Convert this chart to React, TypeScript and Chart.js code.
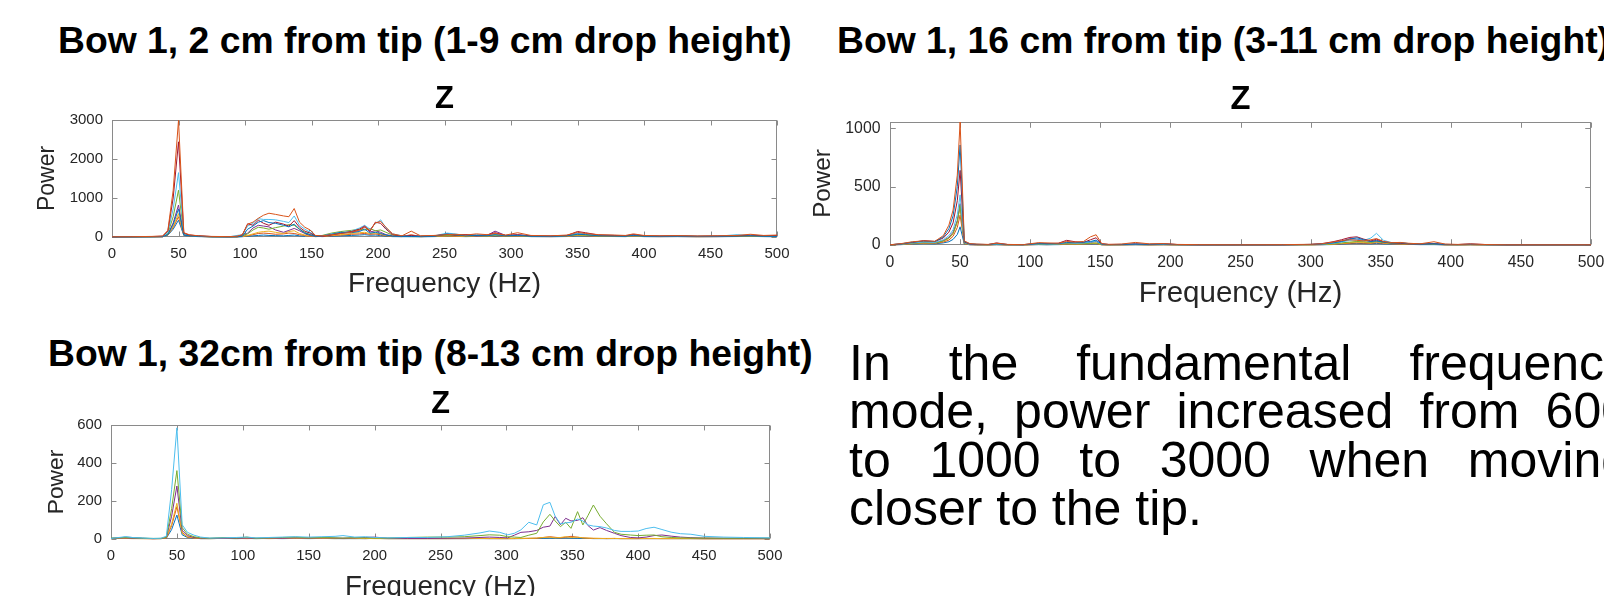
import React, { useEffect, useRef } from "react";
import { Chart, registerables } from "chart.js";

Chart.register(...registerables);

const FONT = '"Liberation Sans", Arial, Helvetica, sans-serif';
const LINE_COLORS = ["#0072BD", "#D95319", "#EDB120", "#7E2F8E", "#77AC30", "#4DBEEE", "#A2142F"];

// ---- Bow 1, 2 cm from tip: frequency grid (Hz) and power per drop height ----
const freqTip2 = [0, 15, 30, 38, 42, 46, 50, 54, 58, 65, 75, 88, 94, 98, 102, 106, 110, 114, 118, 123, 129, 133, 137, 141, 145, 149, 153, 158, 165, 172, 180, 186, 190, 194, 198, 202, 206, 211, 218, 225, 232, 242, 252, 258, 266, 274, 282, 288, 296, 305, 315, 330, 342, 350, 356, 366, 378, 386, 392, 400, 412, 425, 440, 455, 470, 480, 490, 500];
const tip2Drop1 = [2, 2, 4, 6, 45, 200, 430, 40, 20, 10, 4, 2, 3, 8, 20, 30, 40, 50, 40, 35, 30, 40, 50, 30, 20, 180, 20, 10, 20, 30, 40, 50, 60, 45, 50, 40, 20, 10, 8, 8, 6, 10, 20, 15, 10, 15, 12, 20, 15, 20, 10, 8, 12, 30, 25, 15, 12, 10, 20, 10, 8, 10, 6, 8, 12, 15, 10, 8];
const tip2Drop2 = [2, 3, 5, 8, 50, 240, 520, 45, 25, 15, 5, 3, 5, 12, 30, 60, 90, 100, 90, 70, 80, 100, 90, 60, 40, 20, 10, 15, 30, 50, 70, 80, 90, 70, 80, 60, 30, 15, 10, 60, 10, 15, 25, 20, 15, 25, 20, 30, 20, 25, 12, 10, 15, 40, 30, 20, 15, 12, 25, 12, 10, 12, 8, 10, 15, 20, 12, 10];
const tip2Drop3 = [2, 3, 5, 8, 55, 270, 600, 50, 25, 15, 5, 3, 5, 15, 40, 80, 120, 140, 150, 120, 90, 140, 160, 90, 50, 30, 10, 20, 40, 60, 90, 110, 120, 90, 100, 80, 40, 20, 15, 10, 10, 15, 30, 25, 20, 30, 20, 40, 25, 30, 15, 12, 20, 50, 40, 25, 20, 15, 30, 15, 12, 15, 10, 12, 20, 25, 15, 10];
const tip2Drop4 = [3, 5, 7, 10, 70, 360, 820, 60, 30, 20, 8, 5, 8, 25, 100, 230, 300, 280, 260, 180, 120, 170, 220, 160, 90, 40, 15, 20, 60, 90, 130, 160, 260, 130, 160, 120, 60, 30, 20, 20, 15, 20, 50, 40, 60, 30, 40, 150, 40, 50, 25, 20, 30, 90, 70, 40, 30, 25, 60, 25, 20, 25, 15, 20, 30, 40, 25, 20];
const tip2Drop5 = [3, 5, 8, 12, 90, 520, 1200, 70, 35, 20, 8, 5, 8, 30, 80, 180, 250, 230, 200, 240, 280, 320, 300, 200, 120, 60, 20, 40, 100, 140, 170, 200, 180, 220, 160, 180, 120, 50, 30, 20, 20, 25, 40, 50, 30, 40, 30, 50, 30, 40, 20, 15, 30, 60, 50, 30, 30, 20, 40, 20, 15, 30, 15, 20, 25, 30, 20, 15];
const tip2Drop6 = [4, 6, 10, 15, 110, 720, 1650, 80, 40, 25, 10, 6, 40, 60, 280, 350, 470, 450, 450, 440, 400, 370, 540, 300, 200, 120, 30, 30, 80, 110, 150, 230, 300, 200, 340, 440, 230, 80, 30, 30, 20, 30, 100, 80, 40, 60, 40, 70, 40, 50, 30, 20, 40, 100, 80, 50, 40, 30, 50, 30, 20, 25, 20, 20, 60, 40, 30, 20];
const tip2Drop7 = [5, 8, 12, 20, 150, 1000, 2440, 100, 50, 30, 12, 8, 15, 50, 340, 300, 430, 350, 300, 380, 330, 280, 420, 250, 150, 100, 30, 20, 50, 100, 140, 200, 280, 150, 380, 350, 200, 60, 20, 40, 20, 30, 70, 50, 60, 40, 50, 110, 40, 60, 30, 25, 40, 140, 110, 50, 40, 30, 60, 30, 25, 30, 20, 25, 30, 50, 30, 40];
const tip2Drop8 = [3, 4, 6, 10, 60, 320, 720, 50, 30, 15, 6, 4, 6, 20, 200, 280, 380, 420, 370, 350, 300, 260, 330, 200, 100, 60, 20, 30, 70, 120, 110, 140, 200, 100, 120, 90, 50, 20, 15, 15, 10, 20, 80, 60, 30, 40, 30, 60, 30, 40, 20, 15, 30, 70, 60, 30, 25, 20, 40, 20, 15, 20, 15, 15, 25, 30, 20, 15];
const tip2Drop9 = [5, 8, 15, 25, 170, 1200, 2990, 110, 60, 30, 15, 10, 20, 60, 330, 380, 480, 560, 610, 580, 540, 520, 730, 380, 250, 180, 40, 30, 60, 90, 120, 180, 250, 170, 360, 400, 250, 80, 30, 150, 30, 40, 60, 70, 50, 80, 60, 90, 50, 110, 40, 30, 50, 120, 90, 60, 50, 40, 80, 40, 30, 35, 25, 30, 40, 70, 40, 50];
const powerTicksTip2 = [0, 1000, 2000, 3000];

// ---- Bow 1, 16 cm from tip ----
const freqTip16 = [0, 8, 16, 24, 32, 38, 42, 45, 48, 50, 53, 57, 62, 70, 76, 84, 95, 106, 112, 120, 126, 132, 138, 143, 147, 151, 156, 165, 175, 185, 195, 205, 220, 250, 280, 300, 308, 316, 322, 328, 333, 338, 343, 347, 352, 358, 364, 370, 378, 388, 396, 405, 414, 425, 440, 470, 500];
const tip16Drop3 = [1, 3, 8, 12, 10, 18, 28, 48, 90, 156, 8, 2, 1, 1, 2, 1, 1, 3, 2, 3, 5, 4, 5, 8, 10, 2, 1, 1, 2, 1, 2, 1, 1, 1, 1, 1, 2, 4, 8, 12, 14, 12, 10, 14, 10, 8, 6, 5, 3, 3, 1, 1, 2, 1, 1, 1, 1];
const tip16Drop4 = [1, 4, 10, 15, 14, 25, 42, 75, 150, 256, 10, 3, 2, 1, 3, 1, 1, 4, 3, 5, 8, 6, 8, 10, 12, 2, 1, 2, 3, 2, 2, 1, 1, 1, 1, 2, 3, 6, 10, 15, 18, 16, 14, 20, 14, 10, 8, 6, 4, 5, 2, 1, 2, 1, 1, 1, 1];
const tip16Drop5 = [1, 5, 12, 18, 16, 32, 55, 95, 190, 327, 12, 4, 2, 2, 4, 2, 1, 5, 4, 6, 10, 8, 10, 12, 15, 3, 2, 2, 4, 2, 3, 2, 1, 1, 1, 2, 4, 8, 14, 20, 25, 22, 18, 28, 18, 12, 10, 8, 5, 6, 2, 2, 3, 2, 1, 1, 1];
const tip16Drop6 = [1, 6, 15, 22, 18, 38, 65, 110, 210, 355, 15, 5, 3, 2, 6, 2, 2, 8, 6, 8, 15, 12, 14, 22, 30, 5, 2, 3, 5, 3, 5, 2, 2, 1, 2, 4, 8, 18, 32, 55, 50, 38, 30, 40, 25, 15, 14, 10, 6, 8, 3, 2, 4, 2, 1, 1, 1];
const tip16Drop7 = [1, 6, 14, 20, 18, 35, 60, 100, 200, 340, 15, 5, 3, 2, 5, 2, 2, 6, 5, 8, 12, 10, 12, 15, 18, 4, 2, 3, 4, 3, 4, 2, 2, 1, 2, 3, 5, 10, 18, 25, 30, 28, 22, 30, 22, 15, 12, 10, 6, 6, 3, 2, 3, 2, 1, 1, 1];
const tip16Drop8 = [2, 8, 18, 25, 22, 45, 80, 130, 260, 430, 20, 6, 4, 3, 8, 3, 2, 10, 8, 10, 20, 15, 18, 25, 35, 6, 3, 4, 6, 5, 6, 3, 2, 2, 2, 4, 8, 15, 25, 40, 45, 40, 60, 100, 40, 20, 18, 12, 8, 12, 4, 3, 5, 3, 2, 2, 2];
const tip16Drop9 = [2, 10, 22, 38, 30, 60, 110, 190, 380, 640, 25, 8, 5, 4, 18, 4, 3, 15, 12, 15, 40, 28, 22, 45, 62, 10, 5, 5, 10, 6, 12, 4, 2, 2, 2, 5, 12, 28, 45, 65, 70, 50, 35, 50, 28, 18, 15, 10, 8, 12, 5, 4, 10, 4, 2, 2, 2];
const tip16Drop10 = [2, 10, 25, 32, 30, 70, 140, 250, 500, 858, 30, 10, 6, 4, 10, 4, 3, 12, 10, 12, 22, 20, 25, 30, 42, 8, 4, 5, 8, 6, 8, 4, 2, 2, 2, 5, 8, 18, 30, 50, 62, 45, 30, 35, 25, 18, 20, 12, 8, 10, 5, 4, 6, 3, 2, 2, 2];
const tip16Drop11 = [2, 12, 28, 35, 32, 80, 170, 300, 600, 1055, 35, 12, 8, 5, 15, 5, 3, 20, 18, 15, 30, 25, 30, 70, 88, 12, 5, 8, 22, 10, 12, 5, 3, 2, 3, 6, 10, 25, 38, 45, 40, 35, 45, 55, 30, 20, 22, 15, 10, 28, 8, 5, 8, 4, 2, 2, 2];
const powerTicksTip16 = [0, 500, 1000];

// ---- Bow 1, 32 cm from tip ----
const freqTip32 = [0, 6, 11, 16, 24, 32, 38, 42, 46, 50, 54, 58, 63, 68, 75, 85, 95, 103, 110, 120, 130, 140, 150, 160, 170, 176, 185, 193, 200, 210, 225, 240, 255, 268, 280, 287, 295, 301, 306, 311, 317, 323, 328, 333, 337, 341, 345, 349, 354, 358, 362, 366, 371, 376, 382, 387, 394, 400, 406, 412, 418, 425, 432, 440, 450, 465, 480, 500];
const tip32Drop8 = [3, 6, 10, 8, 4, 2, 2, 4, 50, 126, 22, 8, 4, 2, 2, 3, 2, 3, 2, 3, 2, 3, 2, 3, 2, 2, 2, 2, 3, 2, 2, 2, 2, 2, 2, 2, 2, 2, 2, 2, 3, 3, 4, 5, 4, 5, 6, 5, 4, 3, 3, 2, 2, 2, 2, 2, 2, 2, 2, 2, 2, 2, 2, 2, 2, 2, 2, 2];
const tip32Drop9 = [2, 3, 3, 2, 2, 1, 2, 5, 70, 170, 35, 10, 5, 2, 2, 3, 3, 2, 3, 2, 3, 5, 3, 4, 3, 2, 3, 2, 3, 2, 2, 2, 2, 2, 3, 2, 2, 2, 2, 3, 3, 4, 8, 12, 9, 6, 10, 14, 9, 6, 4, 3, 3, 2, 3, 2, 2, 2, 2, 2, 2, 2, 2, 2, 1, 1, 1, 1];
const tip32Drop10 = [2, 3, 4, 3, 2, 2, 2, 6, 80, 188, 30, 12, 6, 3, 2, 3, 2, 3, 2, 3, 4, 3, 4, 3, 2, 3, 2, 3, 2, 2, 2, 2, 2, 3, 3, 3, 2, 2, 3, 3, 4, 5, 8, 10, 6, 8, 12, 8, 10, 6, 5, 4, 3, 3, 3, 2, 2, 2, 3, 3, 2, 2, 2, 2, 2, 2, 2, 2];
const tip32Drop11 = [3, 5, 6, 4, 3, 2, 3, 8, 120, 279, 45, 18, 8, 4, 3, 4, 3, 5, 3, 5, 4, 6, 5, 6, 5, 4, 6, 8, 10, 4, 3, 3, 4, 5, 8, 10, 8, 6, 20, 35, 38, 45, 62, 68, 118, 75, 109, 95, 98, 112, 70, 47, 60, 45, 30, 18, 8, 6, 10, 18, 21, 15, 10, 7, 5, 4, 3, 3];
const tip32Drop12 = [5, 6, 8, 6, 4, 3, 3, 10, 160, 360, 60, 25, 12, 6, 4, 8, 5, 10, 4, 6, 8, 10, 6, 8, 6, 5, 7, 6, 5, 5, 8, 10, 10, 12, 18, 22, 20, 12, 10, 8, 20, 30, 90, 130, 95, 65, 88, 56, 144, 74, 125, 179, 120, 80, 35, 25, 21, 18, 20, 21, 12, 8, 6, 5, 5, 4, 4, 5];
const tip32Drop13 = [3, 8, 12, 8, 5, 3, 4, 15, 260, 585, 75, 35, 20, 10, 5, 6, 8, 10, 6, 8, 10, 12, 10, 12, 14, 18, 10, 12, 8, 6, 8, 8, 12, 20, 32, 42, 35, 22, 30, 48, 88, 74, 180, 193, 120, 80, 85, 88, 105, 95, 74, 68, 65, 58, 45, 40, 40, 42, 55, 62, 50, 36, 28, 25, 14, 10, 8, 6];
const powerTicksTip32 = [0, 200, 400, 600];

const freqTickValues = [0, 50, 100, 150, 200, 250, 300, 350, 400, 450, 500];

// room around each plot box inside its canvas
const PAD_L = 110;
const PAD_T = 50;
const PAD_R = 40;
const PAD_B = 80;

// Box, inward ticks on all four sides, and the axis captions
const axesFrame = {
  id: "axesFrame",
  beforeDatasetsDraw(chart: any, _args: any, opts: any) {
    const { ctx, chartArea: a, scales } = chart;
    const k = opts.k;
    const tl = 5 * k;
    const L = Math.round(a.left) + 0.5;
    const R = Math.round(a.right) - 0.5;
    const T = Math.round(a.top) + 0.5;
    const B = Math.round(a.bottom) - 0.5;
    ctx.save();
    ctx.strokeStyle = "#8a8a8a";
    ctx.lineWidth = 1;
    ctx.strokeRect(L, T, R - L, B - T);
    ctx.beginPath();
    scales.x.ticks.forEach((t: any) => {
      const px = Math.round(scales.x.getPixelForValue(t.value)) + 0.5;
      ctx.moveTo(px, B);
      ctx.lineTo(px, B - tl);
      ctx.moveTo(px, T);
      ctx.lineTo(px, T + tl);
    });
    scales.y.ticks.forEach((t: any) => {
      const py = Math.round(scales.y.getPixelForValue(t.value)) + 0.5;
      ctx.moveTo(L, py);
      ctx.lineTo(L + tl, py);
      ctx.moveTo(R, py);
      ctx.lineTo(R - tl, py);
    });
    ctx.stroke();
    ctx.restore();
  },
  afterDraw(chart: any, _args: any, opts: any) {
    const { ctx, chartArea: a } = chart;
    const k = opts.k;
    const cx = (a.left + a.right) / 2;
    const cy = (a.top + a.bottom) / 2;
    ctx.save();
    ctx.textAlign = "center";
    ctx.textBaseline = "alphabetic";
    ctx.fillStyle = "#000";
    ctx.font = `bold ${31 * k}px ${FONT}`;
    ctx.fillText(opts.title, cx, a.top - 12.5 * k);
    ctx.fillStyle = "#262626";
    ctx.font = `${28 * k}px ${FONT}`;
    ctx.fillText(opts.xLabel, cx, a.bottom + opts.xLabelGap);
    ctx.translate(a.left - opts.yLabelGap, cy);
    ctx.rotate(-Math.PI / 2);
    ctx.textBaseline = "middle";
    ctx.font = `${23 * k}px ${FONT}`;
    ctx.fillText(opts.yLabel, 0, 0);
    ctx.restore();
  },
};

type PanelProps = {
  box: [number, number, number, number];
  k: number;
  freqs: number[];
  series: number[][];
  yMax: number;
  yTicks: number[];
  yLabelGap: number;
  xLabelGap: number;
};

function SpectrumPanel({ box, k, freqs, series, yMax, yTicks, yLabelGap, xLabelGap }: PanelProps) {
  const ref = useRef<HTMLCanvasElement>(null);
  const [l, t, r, b] = box;
  const w = r - l + PAD_L + PAD_R;
  const h = b - t + PAD_T + PAD_B;

  useEffect(() => {
    const tickFont = { family: FONT, size: 15 * k };
    const chart = new Chart(ref.current as HTMLCanvasElement, {
      type: "line",
      data: {
        datasets: series.map((vals, i) => ({
          data: freqs.map((f, j) => ({ x: f, y: vals[j] })),
          borderColor: LINE_COLORS[i % LINE_COLORS.length],
          borderWidth: 1,
          pointRadius: 0,
          tension: 0,
          fill: false,
          clip: 4,
          order: series.length - i,
        })),
      },
      options: {
        animation: false,
        responsive: false,
        devicePixelRatio: 1,
        layout: { padding: { left: 0, top: PAD_T, right: PAD_R, bottom: 0 } },
        scales: {
          x: {
            type: "linear",
            min: freqTickValues[0],
            max: freqTickValues[freqTickValues.length - 1],
            afterFit: (s: any) => {
              s.height = PAD_B;
            },
            afterBuildTicks: (s: any) => {
              s.ticks = freqTickValues.map((v) => ({ value: v }));
            },
            grid: { display: false, drawTicks: false },
            border: { display: false },
            ticks: {
              autoSkip: false,
              maxRotation: 0,
              font: tickFont,
              color: "#262626",
              padding: 8 * k,
              callback: (v: any) => String(v),
            },
          },
          y: {
            type: "linear",
            min: 0,
            max: yMax,
            afterFit: (s: any) => {
              s.width = PAD_L;
            },
            afterBuildTicks: (s: any) => {
              s.ticks = yTicks.map((v) => ({ value: v }));
            },
            grid: { display: false, drawTicks: false },
            border: { display: false },
            ticks: {
              autoSkip: false,
              font: tickFont,
              color: "#262626",
              padding: 9 * k,
              callback: (v: any) => String(v),
            },
          },
        },
        plugins: {
          legend: { display: false },
          tooltip: { enabled: false },
          axesFrame: { k, title: "Z", xLabel: "Frequency (Hz)", yLabel: "Power", yLabelGap, xLabelGap },
        } as any,
      },
      plugins: [axesFrame],
    });
    return () => chart.destroy();
  }, []);

  return (
    <canvas
      ref={ref}
      width={w}
      height={h}
      style={{ position: "absolute", left: l - PAD_L, top: t - PAD_T, width: w, height: h }}
    />
  );
}

const headingStyle: React.CSSProperties = {
  position: "absolute",
  fontFamily: FONT,
  fontWeight: "bold",
  fontSize: 37.3,
  lineHeight: "37px",
  whiteSpace: "nowrap",
  color: "#000",
};

const bodyLine: React.CSSProperties = {
  position: "absolute",
  left: 849,
  width: 780,
  fontFamily: FONT,
  fontSize: 50,
  lineHeight: "48.4px",
  whiteSpace: "nowrap",
  color: "#000",
};

const justified: React.CSSProperties = {
  ...bodyLine,
  whiteSpace: "normal",
  textAlign: "justify",
  textAlignLast: "justify",
};

export default function App() {
  return (
    <div
      style={{
        position: "absolute",
        left: 0,
        top: 0,
        width: 1604,
        height: 596,
        overflow: "hidden",
        background: "#fff",
      }}
    >
      <div style={{ ...headingStyle, left: 58, top: 22 }}>Bow 1, 2 cm from tip (1-9 cm drop height)</div>
      <div style={{ ...headingStyle, left: 837, top: 22 }}>Bow 1, 16 cm from tip (3-11 cm drop height)</div>
      <div style={{ ...headingStyle, left: 48, top: 335 }}>Bow 1, 32cm from tip (8-13 cm drop height)</div>

      <SpectrumPanel
        box={[112, 120, 777, 237]}
        k={1}
        freqs={freqTip2}
        series={[tip2Drop1, tip2Drop2, tip2Drop3, tip2Drop4, tip2Drop5, tip2Drop6, tip2Drop7, tip2Drop8, tip2Drop9]}
        yMax={3000}
        yTicks={powerTicksTip2}
        yLabelGap={64}
        xLabelGap={55}
      />
      <SpectrumPanel
        box={[890, 122, 1591, 245]}
        k={1.055}
        freqs={freqTip16}
        series={[tip16Drop3, tip16Drop4, tip16Drop5, tip16Drop6, tip16Drop7, tip16Drop8, tip16Drop9, tip16Drop10, tip16Drop11]}
        yMax={1055}
        yTicks={powerTicksTip16}
        yLabelGap={67}
        xLabelGap={57}
      />
      <SpectrumPanel
        box={[111, 425, 770, 539]}
        k={0.99}
        freqs={freqTip32}
        series={[tip32Drop8, tip32Drop9, tip32Drop10, tip32Drop11, tip32Drop12, tip32Drop13]}
        yMax={600}
        yTicks={powerTicksTip32}
        yLabelGap={54}
        xLabelGap={56}
      />

      <div style={{ ...justified, top: 339 }}>In the fundamental frequency</div>
      <div style={{ ...justified, top: 339 + 48.4 }}>mode, power increased from 600</div>
      <div style={{ ...justified, top: 339 + 96.8 }}>to 1000 to 3000 when moving</div>
      <div style={{ ...bodyLine, top: 339 + 145.2 }}>closer to the tip.</div>
    </div>
  );
}
